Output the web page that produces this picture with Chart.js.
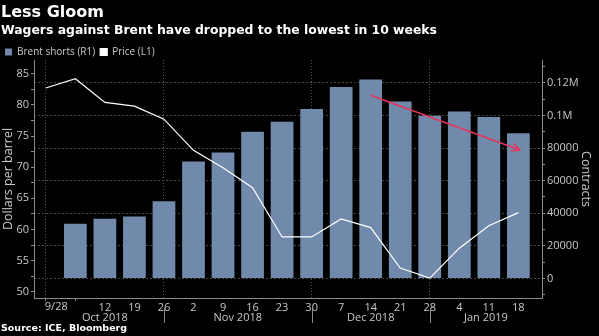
<!DOCTYPE html>
<html lang="en">
<head>
    <meta charset="UTF-8">
    <title>Less Gloom</title>
    <script src="https://cdn.jsdelivr.net/npm/chart.js"></script>
    <style>
        html, body { margin: 0; padding: 0; background: #000; }
        #wrap { position: relative; width: 599px; height: 336px; overflow: hidden; }
        #chart { position: absolute; left: 0; top: 0; }
        .title { position: absolute; left: 1px; top: 2px; color: #fff; font: bold 16px "DejaVu Sans", sans-serif; }
        .sub { position: absolute; left: 1px; top: 22px; color: #fff; font: bold 12.4px "DejaVu Sans", sans-serif; }
        .src { position: absolute; left: 1px; top: 322px; color: #fff; font: bold 9.5px "DejaVu Sans", sans-serif; }
    </style>
</head>
<body>
<div id="wrap">
    <canvas id="chart" width="599" height="336"></canvas>
    <div class="title">Less Gloom</div>
    <div class="sub">Wagers against Brent have dropped to the lowest in 10 weeks</div>
    <div class="src">Source: ICE, Bloomberg</div>
</div>
<script>
// weekly positions, 0 = 9/28/2018 ... 16 = 1/18/2019
const weekLabels = ['9/28', '', '12', '19', '26', '2', '9', '16', '23', '30', '7', '14', '21', '28', '4', '11', '18'];
const priceValues = [82.7, 84.2, 80.4, 79.8, 77.7, 72.7, 69.9, 66.7, 58.8, 58.8, 61.7, 60.3, 53.8, 52.2, 57.0, 60.6, 62.7];
const shortsWeeks = [1, 2, 3, 4, 5, 6, 7, 8, 9, 10, 11, 12, 13, 14, 15, 16];
const shortsValues = [33500, 36600, 38000, 47400, 71800, 77300, 90000, 96100, 103900, 117400, 122000, 108500, 99800, 102400, 99000, 89000];
const monthLabels = ['Oct 2018', 'Nov 2018', 'Dec 2018', 'Jan 2019'];
const monthCenters = [2, 6.5, 11, 14.9];
const monthBreaks = [4, 9, 13];
const gridWeeks = [0, 4, 9, 13];
// trend arrow: [week, contracts] start and end
const arrowFrom = [11, 112400];
const arrowTo = [16.05, 78800];

const barColor = '#7189ab';
const tickColor = '#c8c8c8';
const axisColor = '#8a8a8a';
const tickFont = {family: '"Open Sans", sans-serif', size: 11};

const extras = {
    id: 'extras',
    afterInit(chart) {
        // keep the legend strip thin so the plot starts right under it
        const fit = chart.legend.fit;
        chart.legend.fit = function () {
            fit.call(this);
            this.height = 18;
        };
    },
    afterDatasetsDraw(chart) {
        const {ctx, scales: {x, yR}} = chart;
        const x1 = x.getPixelForValue(arrowFrom[0]), y1 = yR.getPixelForValue(arrowFrom[1]);
        const x2 = x.getPixelForValue(arrowTo[0]), y2 = yR.getPixelForValue(arrowTo[1]);
        const ang = Math.atan2(y2 - y1, x2 - x1);
        ctx.save();
        ctx.strokeStyle = '#e3355c';
        ctx.lineWidth = 1.6;
        ctx.beginPath();
        ctx.moveTo(x1, y1);
        ctx.lineTo(x2, y2);
        ctx.moveTo(x2 - 9 * Math.cos(ang - 0.45), y2 - 9 * Math.sin(ang - 0.45));
        ctx.lineTo(x2, y2);
        ctx.lineTo(x2 - 9 * Math.cos(ang + 0.45), y2 - 9 * Math.sin(ang + 0.45));
        ctx.stroke();
        ctx.restore();
    },
    afterDraw(chart) {
        const {ctx, scales: {x}, chartArea} = chart;
        ctx.save();
        ctx.fillStyle = tickColor;
        ctx.font = '11px "Open Sans", sans-serif';
        ctx.textBaseline = 'middle';
        // first week label sits to the right of its tick
        ctx.textAlign = 'left';
        ctx.fillText(weekLabels[0], x.getPixelForValue(0) - 1, chartArea.bottom + 9);
        ctx.textAlign = 'center';
        monthLabels.forEach((m, i) => ctx.fillText(m, x.getPixelForValue(monthCenters[i]), chartArea.bottom + 20));
        ctx.strokeStyle = axisColor;
        ctx.lineWidth = 1;
        monthBreaks.forEach(w => {
            const px = Math.round(x.getPixelForValue(w)) + 0.5;
            ctx.beginPath();
            ctx.moveTo(px, chartArea.bottom + 10);
            ctx.lineTo(px, chartArea.bottom + 25);
            ctx.stroke();
        });
        ctx.restore();
    }
};

new Chart(document.getElementById('chart'), {
    type: 'bar',
    data: {
        datasets: [{
            type: 'bar',
            label: 'Brent shorts (R1)',
            data: shortsWeeks.map((w, i) => ({x: w, y: shortsValues[i]})),
            backgroundColor: barColor,
            borderColor: barColor,
            yAxisID: 'yR',
            categoryPercentage: 1,
            barPercentage: 0.77,
            order: 2
        }, {
            type: 'line',
            label: 'Price (L1)',
            data: priceValues.map((v, i) => ({x: i, y: v})),
            borderColor: '#ffffff',
            backgroundColor: '#ffffff',
            borderWidth: 1.2,
            pointRadius: 0,
            tension: 0,
            yAxisID: 'yL',
            order: 1
        }]
    },
    options: {
        responsive: false,
        animation: false,
        layout: {padding: {top: 42, left: 0, right: 0, bottom: 0}},
        plugins: {
            legend: {
                position: 'top',
                align: 'start',
                labels: {
                    color: tickColor,
                    font: {family: '"Open Sans", sans-serif', size: 10},
                    boxWidth: 7,
                    boxHeight: 7,
                    padding: 5,
                    sort: (a, b) => a.datasetIndex - b.datasetIndex
                }
            },
            tooltip: {enabled: false}
        },
        scales: {
            x: {
                type: 'linear',
                offset: false,
                min: -0.4,
                max: 16.8,
                afterBuildTicks: s => { s.ticks = weekLabels.map((_, i) => ({value: i})); },
                afterFit: s => {
                    s.height = 38;
                    s.paddingLeft = 0;
                    s.paddingRight = 0;
                },
                ticks: {
                    color: tickColor,
                    font: tickFont,
                    autoSkip: false,
                    maxRotation: 0,
                    padding: 0,
                    callback: (v, i) => i === 0 ? '' : weekLabels[i]
                },
                grid: {
                    offset: false,
                    color: c => gridWeeks.includes(c.index) ? '#555' : 'transparent',
                    tickColor: c => c.index < 2 ? axisColor : 'transparent',
                    tickLength: 3
                },
                border: {color: axisColor, dash: [1, 2]}
            },
            yL: {
                position: 'left',
                min: 49,
                max: 87.2,
                afterBuildTicks: s => {
                    const t = [];
                    for (let v = 50; v <= 85; v += 2.5) t.push({value: v});
                    s.ticks = t;
                },
                afterFit: s => { s.width = 34; },
                title: {display: true, text: 'Dollars per barrel', color: tickColor,
                    font: {family: '"Open Sans", sans-serif', size: 12.5}, padding: {top: 1, bottom: 0}},
                ticks: {
                    color: tickColor,
                    font: tickFont,
                    padding: 2,
                    callback: v => v % 5 === 0 ? v : ''
                },
                grid: {drawOnChartArea: false, tickColor: axisColor, tickLength: 3},
                border: {color: axisColor}
            },
            yR: {
                position: 'right',
                min: -12000,
                max: 134000,
                afterBuildTicks: s => {
                    const t = [];
                    for (let v = -10000; v <= 130000; v += 10000) t.push({value: v});
                    s.ticks = t;
                },
                afterFit: s => { s.width = 57; },
                title: {display: true, text: 'Contracts', color: tickColor,
                    font: {family: '"Open Sans", sans-serif', size: 12.5}, padding: {top: 6, bottom: 0}},
                ticks: {
                    color: tickColor,
                    font: tickFont,
                    padding: 2,
                    callback: v => {
                        if (v % 20000 !== 0 || v < 0) return '';
                        return v >= 100000 ? (v / 1000000) + 'M' : v;
                    }
                },
                grid: {
                    color: c => (c.tick && c.tick.value % 20000 === 0 && c.tick.value >= 0) ? '#444' : 'transparent',
                    tickColor: axisColor,
                    tickLength: 3
                },
                border: {color: axisColor, dash: [2, 2]}
            }
        }
    },
    plugins: [extras]
});
</script>
</body>
</html>
